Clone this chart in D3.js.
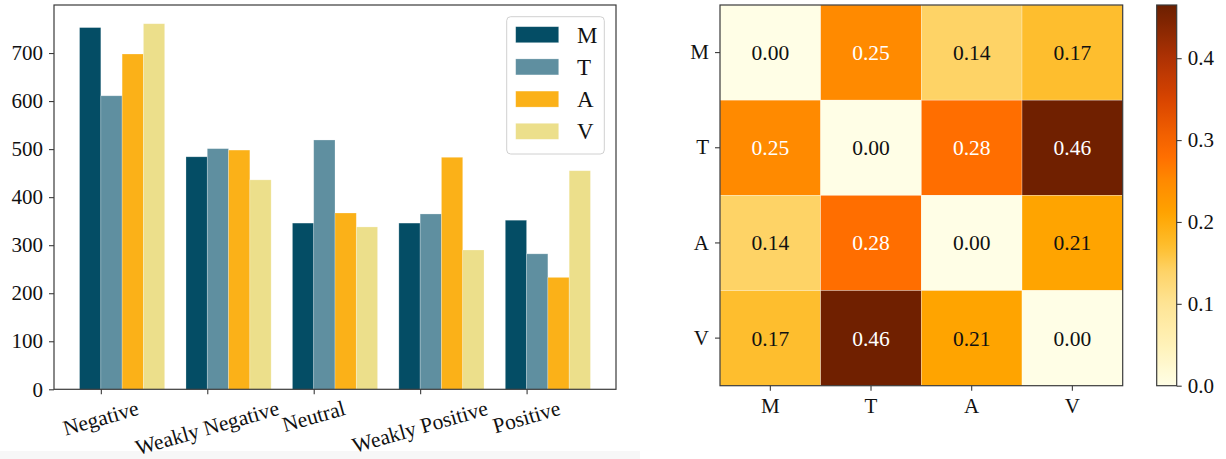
<!DOCTYPE html>
<html>
<head>
<meta charset="utf-8">
<script src="https://cdn.jsdelivr.net/npm/d3@7"></script>
<style>
  html, body { margin: 0; padding: 0; background: #fff; }
  svg { display: block; }
</style>
</head>
<body>
<svg id="chart" width="1226" height="459"></svg>
<script>
// ---------------- data ----------------
const categories = ["Negative", "Weakly Negative", "Neutral", "Weakly Positive", "Positive"];
const seriesNames = ["M", "T", "A", "V"];
const valuesM = [753, 484, 346, 346, 352];
const valuesT = [611, 501, 519, 365, 282];
const valuesA = [698, 498, 367, 483, 233];
const valuesV = [761, 436, 338, 290, 455];
const barTicks = [0, 100, 200, 300, 400, 500, 600, 700];

const heatLabels = ["M", "T", "A", "V"];
const heatRowM = [0.00, 0.25, 0.14, 0.17];
const heatRowT = [0.25, 0.00, 0.28, 0.46];
const heatRowA = [0.14, 0.28, 0.00, 0.21];
const heatRowV = [0.17, 0.46, 0.21, 0.00];
const colorbarTicks = [0.0, 0.1, 0.2, 0.3, 0.4];

// ---------------- setup ----------------
const SERIF = "'Liberation Serif', 'Times New Roman', 'DejaVu Serif', serif";
const svg = d3.select("#chart").style("font-family", SERIF);
const FONT = 21;
const seriesValues = [valuesM, valuesT, valuesA, valuesV];
const seriesColors = ["#044d65", "#5f8fa0", "#fbb118", "#ecdf8b"];
const spine = "#3a3a3a";

function styleText(sel, size) {
  sel.attr("font-family", null).style("font-family", SERIF).attr("font-size", size).style("fill", "#111");
}

// faint band at bottom-left
svg.append("rect").attr("x", 0).attr("y", 451).attr("width", 640).attr("height", 8).attr("fill", "#f7f7f7");

// ---------------- bar chart ----------------
const bx0 = 54, bx1 = 616, by0 = 5, by1 = 389.3;
const xBar = d3.scaleLinear().domain([-0.44, 4.84]).range([bx0, bx1]);
const yBar = d3.scaleLinear().domain([0, 800]).range([by1, by0]);
const bw = 0.2;

const gBar = svg.append("g");
seriesValues.forEach((vals, j) => {
  gBar.selectAll(null).data(vals).enter().append("rect")
    .attr("x", (d, i) => xBar(i + (j - 1) * bw))
    .attr("width", (d, i) => xBar(i + j * bw) - xBar(i + (j - 1) * bw))
    .attr("y", d => yBar(d))
    .attr("height", d => yBar(0) - yBar(d))
    .attr("fill", seriesColors[j])
    .attr("stroke", "rgba(255,255,255,0.35)")
    .attr("stroke-width", 0.7);
});

// y axis
const yAx = svg.append("g").attr("transform", `translate(${bx0},0)`)
  .call(d3.axisLeft(yBar).tickValues(barTicks).tickSize(5).tickPadding(6).tickFormat(d3.format("d")));
yAx.attr("font-family", null);
yAx.select(".domain").remove();
yAx.selectAll("line").attr("stroke", spine).attr("stroke-width", 1.1);
styleText(yAx.selectAll("text"), FONT);

// x axis ticks
const xAx = svg.append("g").attr("transform", `translate(0,${by1})`)
  .call(d3.axisBottom(xBar).tickValues(d3.range(categories.length)).tickSize(5).tickFormat(""));
xAx.select(".domain").remove();
xAx.selectAll("line").attr("stroke", spine).attr("stroke-width", 1.1);

// rotated x labels
const ang = 16, rad = ang * Math.PI / 180;
const XFONT = 21.5;
categories.forEach((c, i) => {
  const t = svg.append("text").text(c).attr("text-anchor", "middle").attr("dy", "0.32em");
  styleText(t, XFONT);
  const L = t.node().getComputedTextLength();
  const H = XFONT * 1.05;
  const cy = 397 + (L * Math.sin(rad) + H * Math.cos(rad)) / 2;
  t.attr("transform", `translate(${xBar(i)},${cy}) rotate(${-ang})`);
});

// frame
svg.append("rect").attr("x", bx0).attr("y", by0).attr("width", bx1 - bx0).attr("height", by1 - by0)
  .attr("fill", "none").attr("stroke", spine).attr("stroke-width", 1.2);

// legend
const lg = svg.append("g");
lg.append("rect").attr("x", 506.7).attr("y", 16.7).attr("width", 97.6).attr("height", 137.3)
  .attr("rx", 4).attr("fill", "rgba(255,255,255,0.85)").attr("stroke", "#d0d0d0").attr("stroke-width", 1);
seriesNames.forEach((n, j) => {
  const yy = 26.7 + j * 32.2;
  lg.append("rect").attr("x", 515.7).attr("y", yy).attr("width", 43).attr("height", 16)
    .attr("fill", seriesColors[j]).attr("stroke", "rgba(255,255,255,0.35)").attr("stroke-width", 0.7);
  const t = lg.append("text").attr("x", 577).attr("y", yy + 8).attr("dy", "0.35em").text(n);
  styleText(t, 23);
});

// ---------------- heatmap ----------------
const hx0 = 720, hx1 = 1122.7, hy0 = 5, hy1 = 385.7;
const heatRows = [heatRowM, heatRowT, heatRowA, heatRowV];
const xH = d3.scaleBand().domain(heatLabels).range([hx0, hx1]);
const yH = d3.scaleBand().domain(heatLabels).range([hy0, hy1]);
const vmax = 0.465;
const color = d3.scaleLinear()
  .domain([0.00, 0.05, 0.10, 0.14, 0.17, 0.21, 0.25, 0.28, 0.31, 0.35, 0.40, 0.465])
  .range(["#fffee6", "#fff2b8", "#fee495", "#fed366", "#febe2e", "#ffa400", "#ff8a00", "#ff6e00", "#f05e00", "#d84400", "#ae3204", "#6b1f00"])
  .interpolate(d3.interpolateRgb).clamp(true);

const cells = [];
heatRows.forEach((row, r) => row.forEach((v, c) => cells.push({ r: heatLabels[r], c: heatLabels[c], v })));

const gH = svg.append("g");
gH.selectAll("rect").data(cells).enter().append("rect")
  .attr("x", d => xH(d.c)).attr("y", d => yH(d.r))
  .attr("width", xH.bandwidth()).attr("height", yH.bandwidth())
  .attr("fill", d => color(d.v))
  .attr("stroke", "rgba(255,255,255,0.45)").attr("stroke-width", 0.6);
const cellText = gH.selectAll("text").data(cells).enter().append("text")
  .attr("x", d => xH(d.c) + xH.bandwidth() / 2)
  .attr("y", d => yH(d.r) + yH.bandwidth() / 2)
  .attr("dy", "0.35em").attr("text-anchor", "middle")
  .text(d => d3.format(".2f")(d.v));
styleText(cellText, 21.5);
cellText.style("fill", d => d.v > 0.23 ? "#ffffff" : "#111111");

svg.append("rect").attr("x", hx0).attr("y", hy0).attr("width", hx1 - hx0).attr("height", hy1 - hy0)
  .attr("fill", "none").attr("stroke", spine).attr("stroke-width", 1.2);

const hyAx = svg.append("g").attr("transform", `translate(${hx0},0)`)
  .call(d3.axisLeft(yH).tickSize(5).tickPadding(6));
hyAx.attr("font-family", null);
hyAx.select(".domain").remove();
hyAx.selectAll("line").attr("stroke", spine).attr("stroke-width", 1.1);
styleText(hyAx.selectAll("text"), FONT);

const hxAx = svg.append("g").attr("transform", `translate(0,${hy1})`)
  .call(d3.axisBottom(xH).tickSize(5).tickPadding(7));
hxAx.attr("font-family", null);
hxAx.select(".domain").remove();
hxAx.selectAll("line").attr("stroke", spine).attr("stroke-width", 1.1);
styleText(hxAx.selectAll("text"), FONT);

// ---------------- colorbar ----------------
const cx0 = 1156.7, cx1 = 1176.7;
const yC = d3.scaleLinear().domain([0, vmax]).range([hy1, hy0]);
const defs = svg.append("defs");
const grad = defs.append("linearGradient").attr("id", "cbar").attr("x1", 0).attr("y1", 1).attr("x2", 0).attr("y2", 0);
d3.range(0, 1.0001, 0.02).forEach(f => {
  grad.append("stop").attr("offset", f).attr("stop-color", color(f * vmax));
});
svg.append("rect").attr("x", cx0).attr("y", hy0).attr("width", cx1 - cx0).attr("height", hy1 - hy0)
  .attr("fill", "url(#cbar)").attr("stroke", spine).attr("stroke-width", 1.2);
const cAx = svg.append("g").attr("transform", `translate(${cx1},0)`)
  .call(d3.axisRight(yC).tickValues(colorbarTicks).tickSize(5).tickPadding(6).tickFormat(d3.format(".1f")));
cAx.attr("font-family", null);
cAx.select(".domain").remove();
cAx.selectAll("line").attr("stroke", spine).attr("stroke-width", 1.1);
styleText(cAx.selectAll("text"), FONT);
</script>
</body>
</html>
